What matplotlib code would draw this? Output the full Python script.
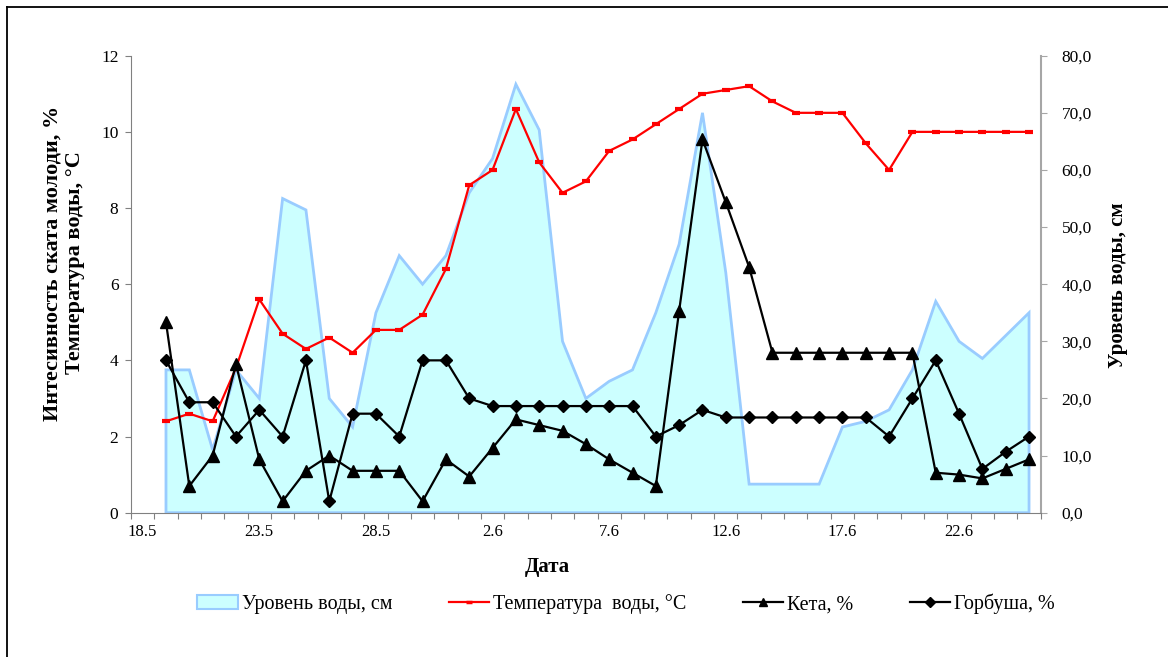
import numpy as np
import matplotlib
matplotlib.use("Agg")
import matplotlib.pyplot as plt
from matplotlib.lines import Line2D
from matplotlib.patches import Patch

plt.rcParams['font.family'] = ['Liberation Serif', 'DejaVu Serif']

# day index: 0 = 18.5, data from 19.5 (1) to 25.6 (38)
days = list(range(1, 39))
tick_labels = ["18.5", "23.5", "28.5", "2.6", "7.6", "12.6", "17.6", "22.6"]

# water level, cm (right axis)
water = [25, 25, 11, 25, 20, 55, 53, 20, 15, 35, 45, 40, 45, 56, 62, 75, 67, 30, 20, 23,
         25, 35, 47, 70, 42, 5, 5, 5, 5, 15, 16, 18, 25, 37, 30, 27, 31, 35]
# water temperature, C
temp = [2.4, 2.6, 2.4, 3.8, 5.6, 4.7, 4.3, 4.6, 4.2, 4.8, 4.8, 5.2, 6.4, 8.6, 9.0, 10.6, 9.2, 8.4, 8.7, 9.5,
        9.8, 10.2, 10.6, 11.0, 11.1, 11.2, 10.8, 10.5, 10.5, 10.5, 9.7, 9.0, 10.0, 10.0, 10.0, 10.0, 10.0, 10.0]
# chum salmon (keta), %
keta = [5.0, 0.7, 1.5, 3.9, 1.4, 0.3, 1.1, 1.5, 1.1, 1.1, 1.1, 0.3, 1.4, 0.95, 1.7, 2.45, 2.3, 2.15, 1.8, 1.4,
        1.05, 0.7, 5.3, 9.8, 8.15, 6.45, 4.2, 4.2, 4.2, 4.2, 4.2, 4.2, 4.2, 1.05, 1.0, 0.9, 1.15, 1.4]
# pink salmon (gorbusha), %
gorb = [4.0, 2.9, 2.9, 2.0, 2.7, 2.0, 4.0, 0.3, 2.6, 2.6, 2.0, 4.0, 4.0, 3.0, 2.8, 2.8, 2.8, 2.8, 2.8, 2.8,
        2.8, 2.0, 2.3, 2.7, 2.5, 2.5, 2.5, 2.5, 2.5, 2.5, 2.5, 2.0, 3.0, 4.0, 2.6, 1.15, 1.6, 2.0]

fig = plt.figure(figsize=(11.68, 6.57), dpi=100)
ax = fig.add_axes([131 / 1168, 144.3 / 657, (1040.7 - 131) / 1168, (512.7 - 55.7) / 657])
ax2 = ax.twinx()
ax.set_zorder(ax2.get_zorder() + 1)
ax.patch.set_visible(False)

# water level area
ax2.fill([days[0]] + days + [days[-1]], [0] + water + [0],
         facecolor='#CCFFFF', edgecolor='#99CCFF', linewidth=2)
ax2.set_ylim(0, 80)
ax2.set_yticks(np.arange(0, 81, 10))
ax2.set_yticklabels([f"{v:.1f}".replace('.', ',') for v in np.arange(0, 81, 10)])

ax.plot(days, temp, color='red', linewidth=1.6, marker='_', markersize=6, markeredgewidth=3)
ax.plot(days, keta, color='black', linewidth=1.6, marker='^', markersize=8)
ax.plot(days, gorb, color='black', linewidth=1.6, marker='D', markersize=6.5)

ax.set_xlim(-0.5, 38.5)
ax.set_ylim(0, 12)
ax.set_yticks(range(0, 13, 2))

ax.set_xticks(np.arange(-0.5, 39, 1))
ax.set_xticklabels([])
ax.set_xticks(np.arange(0, 36, 5), minor=True)
ax.set_xticklabels(tick_labels, minor=True)
ax.tick_params(axis='x', which='minor', length=0, pad=8)
ax.tick_params(axis='x', which='major', length=4, color='#808080')

for a in (ax, ax2):
    for s in a.spines.values():
        s.set_visible(False)
ax.spines['left'].set_visible(True)
ax.spines['left'].set_color('#808080')
ax.spines['bottom'].set_visible(True)
ax.spines['bottom'].set_color('#808080')
ax2.spines['right'].set_visible(True)
ax2.spines['right'].set_color('#A6A6A6')
ax2.spines['right'].set_linewidth(1.5)

ax.tick_params(axis='y', length=4, color='#808080', labelsize=12.5, pad=5)
ax.tick_params(axis='x', labelsize=12, which='both')
ax2.tick_params(axis='y', length=4, color='#A6A6A6', labelsize=12.5, pad=11)

fig.text(64 / 1168, 1 - 263 / 657, "Интесивность ската молоди, %\nТемпература воды, °С",
         rotation=90, ha='center', va='center', fontsize=16, fontweight='bold', linespacing=1.2)
fig.text(1118 / 1168, 1 - 285 / 657, "Уровень воды, см", rotation=90, ha='center', va='center',
         fontsize=15, fontweight='bold')
fig.text(547 / 1168, 1 - 567 / 657, "Дата", ha='center', va='center', fontsize=15, fontweight='bold')

handles = [
    Patch(facecolor='#CCFFFF', edgecolor='#99CCFF', linewidth=1.5),
    Line2D([], [], color='red', linewidth=1.6, marker='_', markersize=5, markeredgewidth=2.5),
    Line2D([], [], color='black', linewidth=1.6, marker='^', markersize=6),
    Line2D([], [], color='black', linewidth=1.6, marker='D', markersize=5),
]
labels = ["Уровень воды, см", "Температура  воды, °С", "Кета, %", "Горбуша, %"]
fig.legend(handles, labels, loc='center', bbox_to_anchor=(626 / 1168, 1 - 604 / 657), ncol=4,
           frameon=False, fontsize=14.5, handlelength=2.0, handletextpad=0.2, columnspacing=2.8)

# outer frame
fig.add_artist(Line2D([7 / 1168, 7 / 1168], [0, 1 - 7 / 657], color='black', linewidth=1.3))
fig.add_artist(Line2D([7 / 1168, 1], [1 - 7 / 657, 1 - 7 / 657], color='black', linewidth=1.3))

fig.savefig("out.png", dpi=100)
